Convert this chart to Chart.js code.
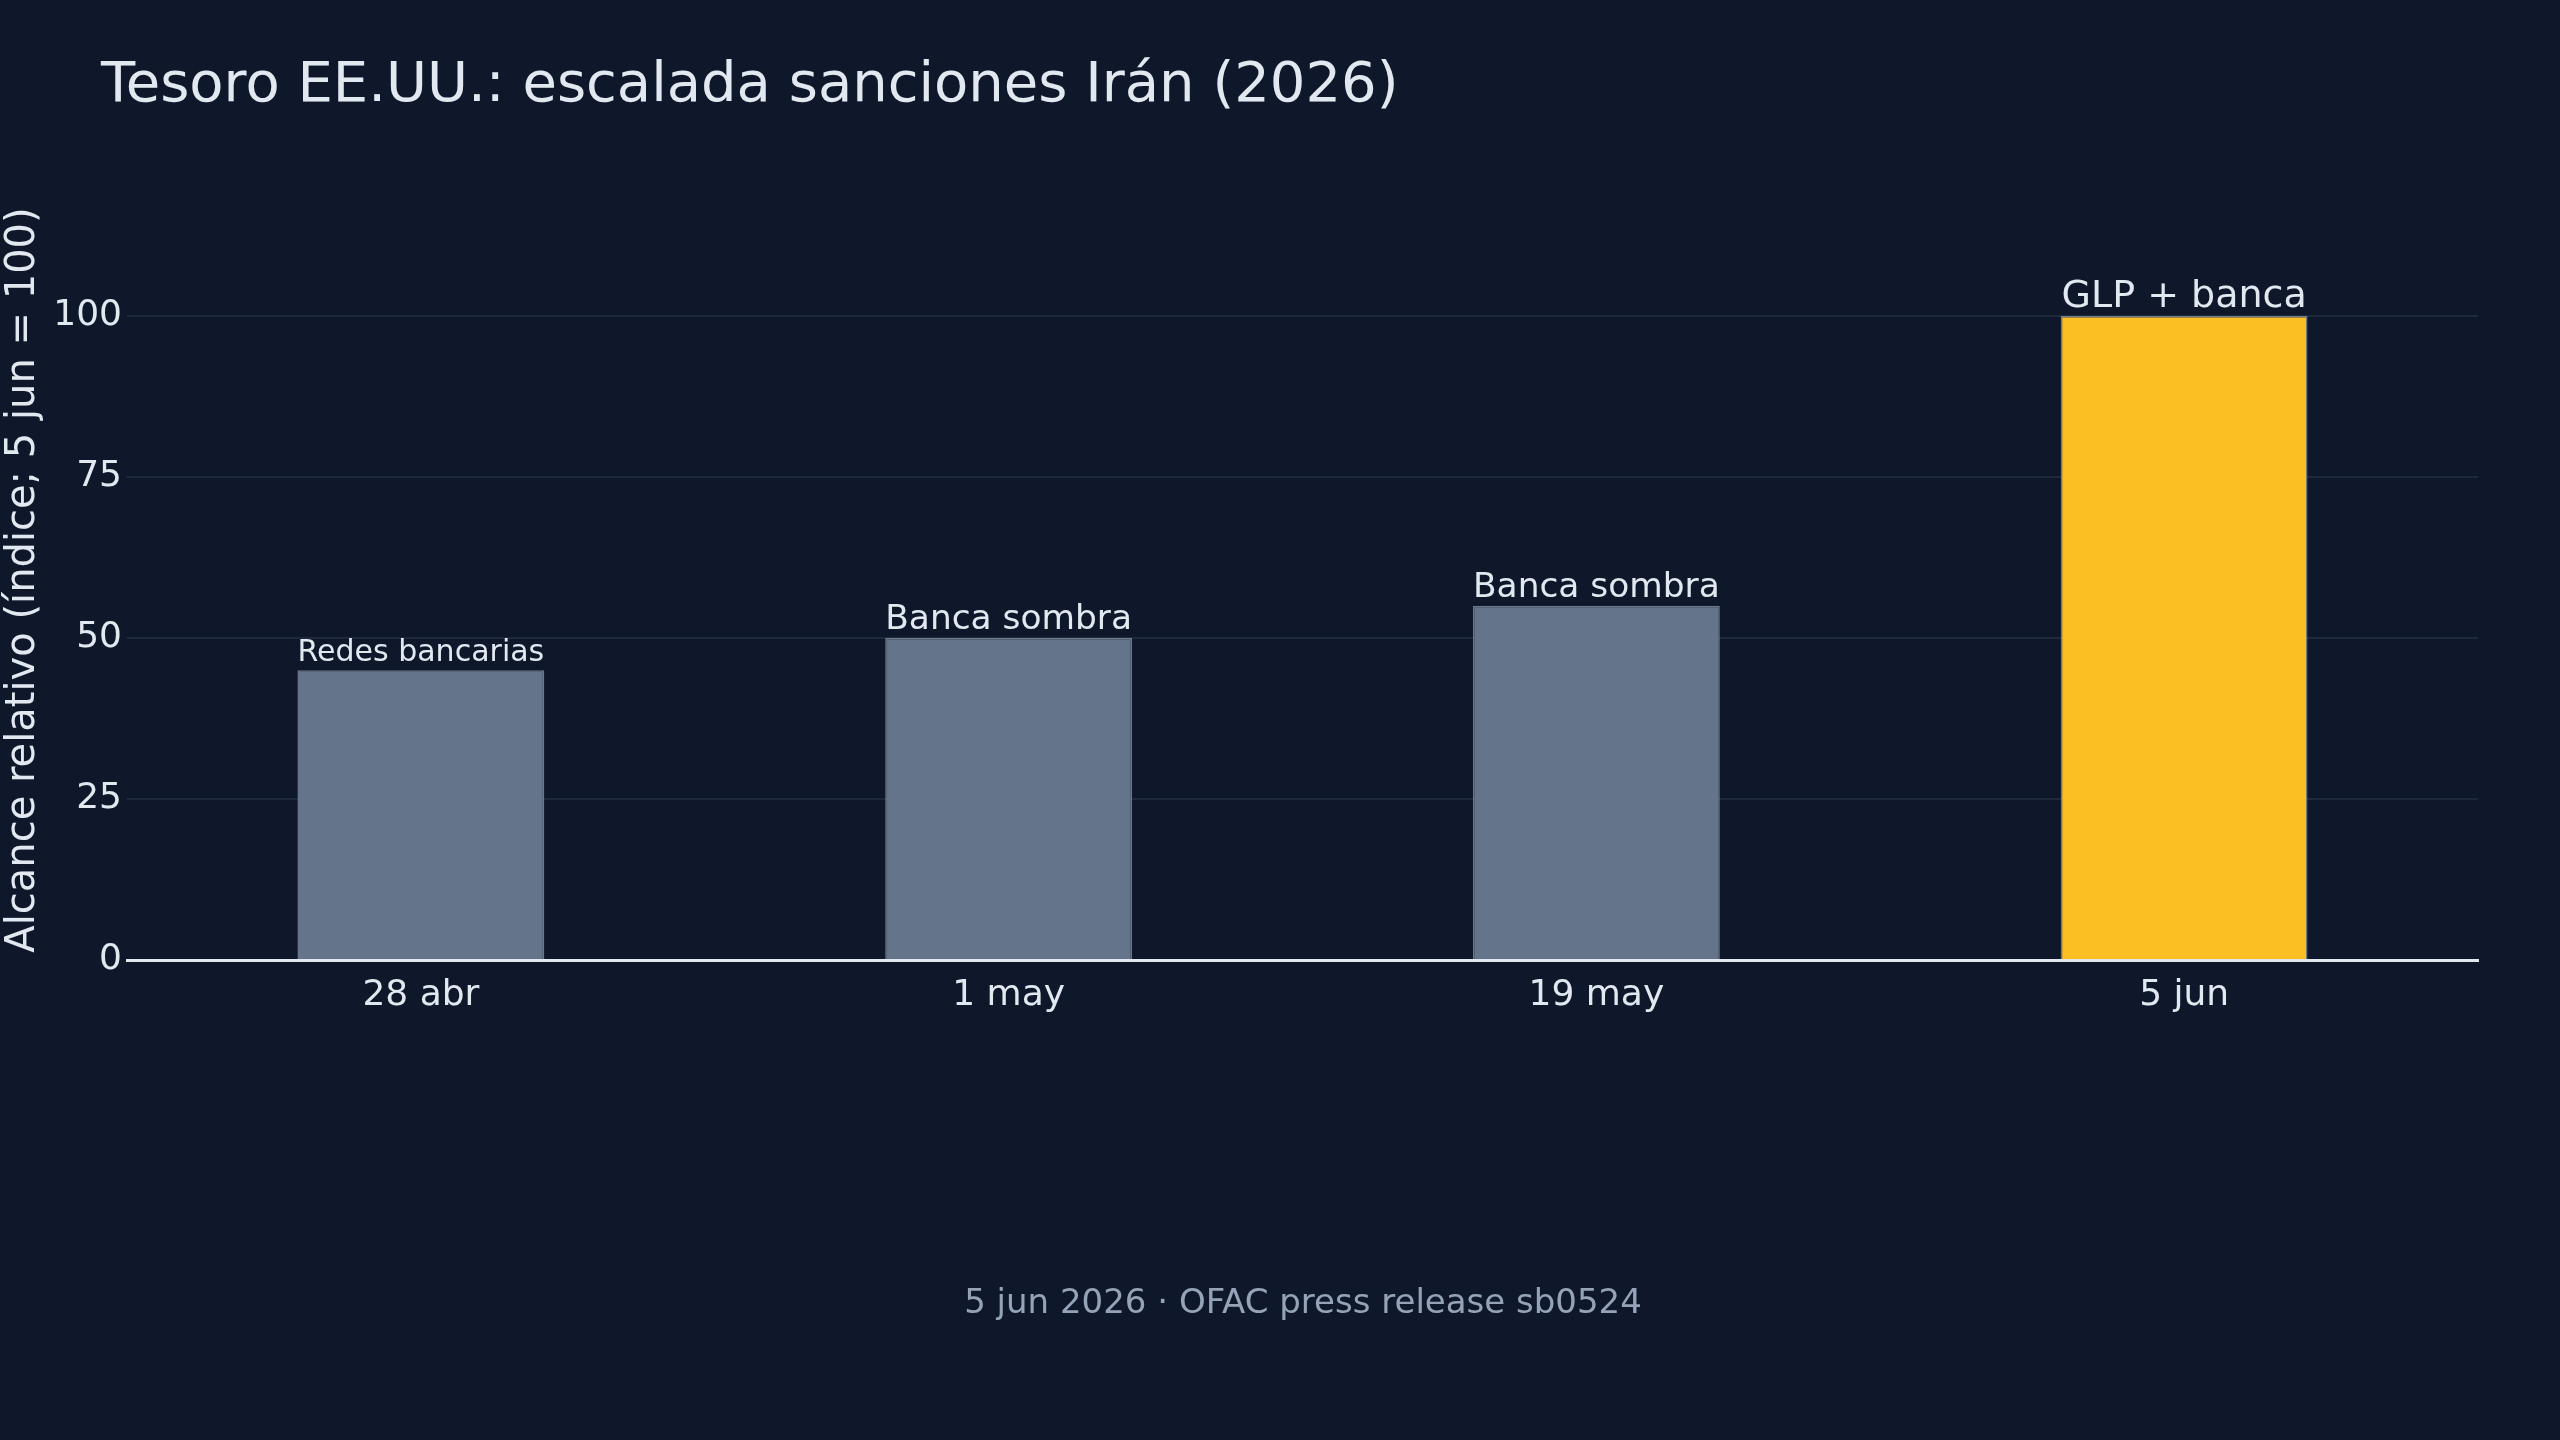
<!DOCTYPE html>
<html>
<head>
<meta charset="utf-8">
<script src="https://cdn.jsdelivr.net/npm/chart.js@4.4.1/dist/chart.umd.min.js"></script>
<style>
  html, body { margin: 0; padding: 0; background: #0f172a; }
  canvas { display: block; }
</style>
</head>
<body>
<canvas id="chart" width="2560" height="1440"></canvas>
<script>
// data
var dates = ['28 abr', '1 may', '19 may', '5 jun'];
var reach = [45, 50, 55, 100];
var notes = ['Redes bancarias', 'Banca sombra', 'Banca sombra', 'GLP + banca'];
var barColors = ['#64748b', '#64748b', '#64748b', '#fbbf24'];
var yTicks = [0, 25, 50, 75, 100];

var titleText = 'Tesoro EE.UU.: escalada sanciones Irán (2026)';
var footText = '5 jun 2026 · OFAC press release sb0524';
var yTitle = 'Alcance relativo (índice; 5 jun = 100)';

Chart.defaults.font.family = "'DejaVu Sans', sans-serif";

// title, footer and the text over each bar
var textPlugin = {
    id: 'texts',
    afterDatasetsDraw: function (chart) {
        var ctx = chart.ctx;
        var meta = chart.getDatasetMeta(0);
        ctx.save();
        ctx.fillStyle = '#e2e8f0';
        ctx.textAlign = 'center';
        ctx.textBaseline = 'alphabetic';
        meta.data.forEach(function (bar, i) {
            var w = bar.width;
            ctx.font = '10px "DejaVu Sans"';
            var size = Math.min(38, 10 * w / ctx.measureText(notes[i]).width);
            ctx.font = size + 'px "DejaVu Sans"';
            ctx.fillText(notes[i], bar.x, bar.y - 9);
        });
        ctx.restore();
    },
    afterDraw: function (chart) {
        var ctx = chart.ctx;
        ctx.save();
        ctx.textBaseline = 'middle';
        ctx.textAlign = 'left';
        ctx.fillStyle = '#e2e8f0';
        ctx.font = '56px "DejaVu Sans"';
        ctx.fillText(titleText, 101, 86);
        ctx.textAlign = 'center';
        ctx.fillStyle = '#94a3b8';
        ctx.font = '34px "DejaVu Sans"';
        ctx.fillText(footText, 1303, 1304);
        ctx.restore();
    }
};

new Chart(document.getElementById('chart'), {
    type: 'bar',
    data: {
        labels: dates,
        datasets: [{
            data: reach,
            backgroundColor: barColors,
            borderColor: 'rgba(148,163,184,0.7)',
            borderWidth: 1.5,
            barPercentage: 0.42,
            categoryPercentage: 1
        }]
    },
    options: {
        responsive: false,
        animation: false,
        devicePixelRatio: 1,
        layout: { padding: { top: 200, right: 82, bottom: 400, left: 0 } },
        plugins: {
            legend: { display: false },
            tooltip: { enabled: false }
        },
        scales: {
            x: {
                grid: { display: false, drawTicks: false },
                border: { display: true, color: '#e2e8f0', width: 3 },
                ticks: { color: '#e2e8f0', font: { size: 36 }, padding: 14 },
                afterFit: function (s) { s.height = 80; }
            },
            y: {
                min: 0,
                max: 118,
                grid: { color: '#1e293b', lineWidth: 2, drawTicks: false },
                border: { display: false },
                ticks: { color: '#e2e8f0', font: { size: 36 }, padding: 5, stepSize: 25 },
                afterBuildTicks: function (s) {
                    s.ticks = yTicks.map(function (v) { return { value: v }; });
                },
                title: {
                    display: true,
                    text: yTitle,
                    color: '#e2e8f0',
                    font: { size: 40 },
                    padding: 0
                },
                afterFit: function (s) { s.width = 127; }
            }
        }
    },
    plugins: [textPlugin]
});
</script>
</body>
</html>
